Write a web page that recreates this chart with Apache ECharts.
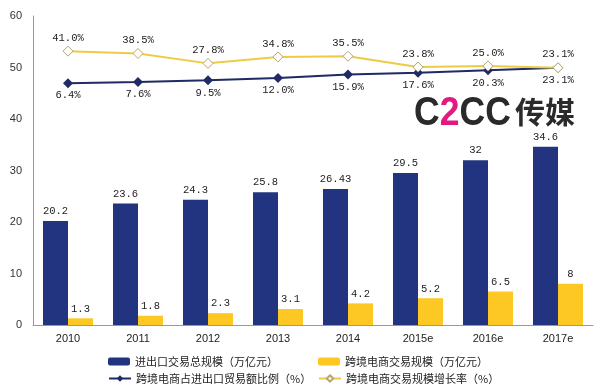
<!DOCTYPE html>
<html><head><meta charset="utf-8">
<script src="https://cdn.jsdelivr.net/npm/echarts@6/dist/echarts.min.js"></script>
<style>html,body{margin:0;padding:0;background:#fff}#c{width:600px;height:386px}</style>
</head><body><div id="c"></div>
<script>
const categories = ['2010','2011','2012','2013','2014','2015e','2016e','2017e'];
const totalTrade = [20.2, 23.6, 24.3, 25.8, 26.43, 29.5, 32, 34.6];
const crossBorder = [1.3, 1.8, 2.3, 3.1, 4.2, 5.2, 6.5, 8];
const shareRatio = [6.4, 7.6, 9.5, 12.0, 15.9, 17.6, 20.3, 23.1];
const growthRate = [41.0, 38.5, 27.8, 34.8, 35.5, 23.8, 25.0, 23.1];
const yTicks = [0, 10, 20, 30, 40, 50, 60];
const names = ['进出口交易总规模（万亿元）','跨境电商交易规模（万亿元）','跨境电商占进出口贸易额比例（%）','跨境电商交易规模增长率（%）'];

const NAVY = '#22337F', YEL = '#FDC823', LNAVY = '#1F2A66', LYEL = '#EDCB45';
const monoLabel = {fontFamily: 'Liberation Mono', fontSize: 10.5, color: '#222'};
const legendText = {fontFamily: 'Noto Sans CJK SC', fontSize: 11, color: '#222'};

const chart = echarts.init(document.getElementById('c'));
chart.setOption({
  animation: false,
  backgroundColor: '#fff',
  grid: {left: 33, right: 7, top: 16, bottom: 61, containLabel: false},
  xAxis: {
    type: 'category', data: categories,
    axisLine: {lineStyle: {color: '#999', width: 1}},
    axisTick: {show: false},
    axisLabel: {fontFamily: 'Liberation Sans', fontSize: 11, color: '#222', margin: 8}
  },
  yAxis: [{
    type: 'value', min: yTicks[0], max: yTicks[yTicks.length-1], interval: 10,
    axisLine: {show: true, lineStyle: {color: '#999'}},
    axisTick: {show: false},
    splitLine: {show: false},
    axisLabel: {fontFamily: 'Liberation Sans', fontSize: 11, color: '#333', margin: 11}
  }, {
    type: 'value', min: -255, max: 79, show: false, splitLine: {show: false}
  }],
  legend: [
    {left: 103, top: 351, itemWidth: 22, itemHeight: 8, itemGap: 2, data: [names[0]], textStyle: legendText},
    {left: 313, top: 351, itemWidth: 22, itemHeight: 8, itemGap: 2, data: [names[1]], textStyle: legendText},
    {left: 103, top: 368, itemWidth: 22, itemHeight: 8, itemGap: 2, data: [names[2]], textStyle: legendText},
    {left: 313, top: 368, itemWidth: 22, itemHeight: 8, itemGap: 2, data: [names[3]], textStyle: legendText}
  ],
  series: [
    {name: names[0], type: 'bar', data: totalTrade, barWidth: 25, barGap: '0%',
     itemStyle: {color: NAVY},
     label: Object.assign({show: true, position: 'top', distance: 4}, monoLabel)},
    {name: names[1], type: 'bar', data: crossBorder, barWidth: 25,
     itemStyle: {color: YEL},
     label: Object.assign({show: true, position: 'top', distance: 4}, monoLabel)},
    {name: names[2], type: 'line', yAxisIndex: 1, data: shareRatio,
     symbol: 'diamond', symbolSize: 10,
     lineStyle: {color: LNAVY, width: 2}, itemStyle: {color: LNAVY},
     label: Object.assign({show: true, position: 'bottom', distance: 2, formatter: p => p.value.toFixed(1) + '%'}, monoLabel)},
    {name: names[3], type: 'line', yAxisIndex: 1, data: growthRate,
     symbol: 'diamond', symbolSize: 10,
     lineStyle: {color: LYEL, width: 2}, itemStyle: {color: '#fff', borderColor: '#B9A46A', borderWidth: 1},
     label: Object.assign({show: true, position: 'top', distance: 2, formatter: p => p.value.toFixed(1) + '%'}, monoLabel)}
  ],
  graphic: [{
    type: 'text', x: 414, y: 94, scaleX: 0.89,
    style: {
      text: '{a|C}{b|2}{a|CC}',
      verticalAlign: 'top',
      rich: {
        a: {fontFamily: 'Liberation Sans', fontWeight: 'bold', fontSize: 40, fill: '#2a2a2a'},
        b: {fontFamily: 'Liberation Sans', fontWeight: 'bold', fontSize: 40, fill: '#E2197E'}
      }
    }
  }, {
    type: 'text', x: 515, y: 97,
    style: {
      text: '传媒', verticalAlign: 'top',
      fontFamily: 'Noto Sans CJK SC', fontWeight: 'bold', fontSize: 30, fill: '#2a2a2a'
    }
  }]
});
</script></body></html>
